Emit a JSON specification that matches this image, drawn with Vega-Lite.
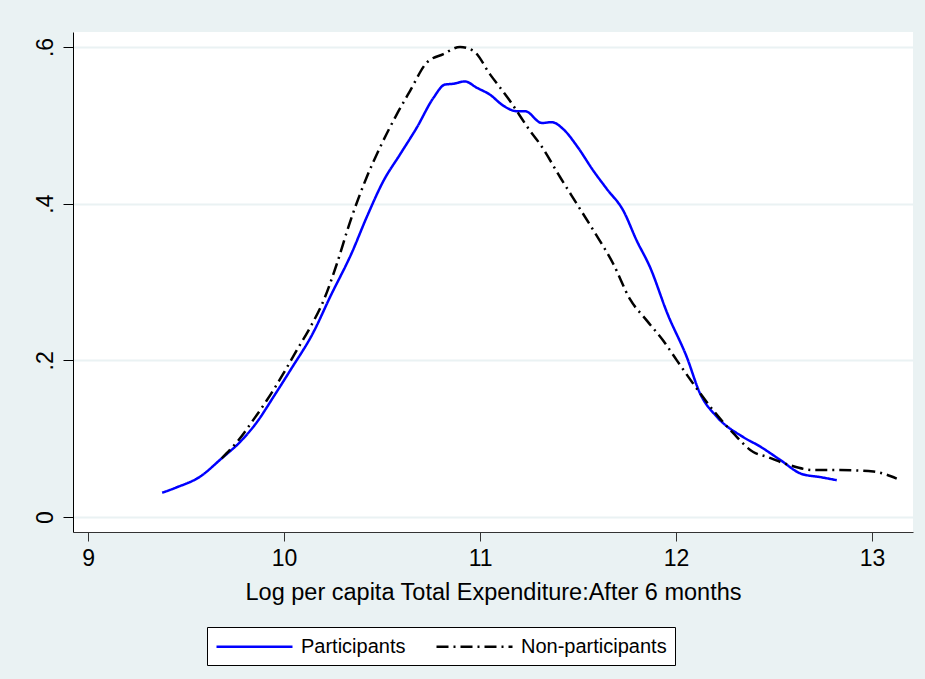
{
  "$schema": "https://vega.github.io/schema/vega-lite/v6.json",
  "autosize": "none",
  "width": 840,
  "height": 500,
  "padding": {"left": 73, "top": 32, "right": 12, "bottom": 147},
  "background": "#EAF2F3",
  "config": {
    "view": {"fill": "white", "stroke": null},
    "font": "Liberation Sans"
  },
  "data": {
    "values": [
      {"x": 9.378, "y": 0.031, "s": "Participants"},
      {"x": 9.453, "y": 0.038, "s": "Participants"},
      {"x": 9.568, "y": 0.051, "s": "Participants"},
      {"x": 9.682, "y": 0.075, "s": "Participants"},
      {"x": 9.776, "y": 0.096, "s": "Participants"},
      {"x": 9.861, "y": 0.121, "s": "Participants"},
      {"x": 9.945, "y": 0.153, "s": "Participants"},
      {"x": 10.031, "y": 0.187, "s": "Participants"},
      {"x": 10.15, "y": 0.236, "s": "Participants"},
      {"x": 10.235, "y": 0.281, "s": "Participants"},
      {"x": 10.345, "y": 0.337, "s": "Participants"},
      {"x": 10.422, "y": 0.383, "s": "Participants"},
      {"x": 10.507, "y": 0.429, "s": "Participants"},
      {"x": 10.592, "y": 0.463, "s": "Participants"},
      {"x": 10.677, "y": 0.497, "s": "Participants"},
      {"x": 10.762, "y": 0.535, "s": "Participants"},
      {"x": 10.821, "y": 0.552, "s": "Participants"},
      {"x": 10.864, "y": 0.553, "s": "Participants"},
      {"x": 10.923, "y": 0.556, "s": "Participants"},
      {"x": 10.983, "y": 0.548, "s": "Participants"},
      {"x": 11.051, "y": 0.539, "s": "Participants"},
      {"x": 11.119, "y": 0.525, "s": "Participants"},
      {"x": 11.187, "y": 0.518, "s": "Participants"},
      {"x": 11.23, "y": 0.518, "s": "Participants"},
      {"x": 11.315, "y": 0.503, "s": "Participants"},
      {"x": 11.366, "y": 0.504, "s": "Participants"},
      {"x": 11.425, "y": 0.495, "s": "Participants"},
      {"x": 11.493, "y": 0.474, "s": "Participants"},
      {"x": 11.578, "y": 0.442, "s": "Participants"},
      {"x": 11.646, "y": 0.419, "s": "Participants"},
      {"x": 11.731, "y": 0.391, "s": "Participants"},
      {"x": 11.799, "y": 0.353, "s": "Participants"},
      {"x": 11.867, "y": 0.319, "s": "Participants"},
      {"x": 11.957, "y": 0.259, "s": "Participants"},
      {"x": 12.055, "y": 0.204, "s": "Participants"},
      {"x": 12.122, "y": 0.158, "s": "Participants"},
      {"x": 12.208, "y": 0.128, "s": "Participants"},
      {"x": 12.343, "y": 0.102, "s": "Participants"},
      {"x": 12.429, "y": 0.09, "s": "Participants"},
      {"x": 12.531, "y": 0.073, "s": "Participants"},
      {"x": 12.641, "y": 0.055, "s": "Participants"},
      {"x": 12.735, "y": 0.051, "s": "Participants"},
      {"x": 12.82, "y": 0.047, "s": "Participants"},
      {"x": 9.682, "y": 0.075, "s": "Non-participants"},
      {"x": 9.767, "y": 0.098, "s": "Non-participants"},
      {"x": 9.843, "y": 0.124, "s": "Non-participants"},
      {"x": 9.912, "y": 0.149, "s": "Non-participants"},
      {"x": 9.996, "y": 0.183, "s": "Non-participants"},
      {"x": 10.065, "y": 0.213, "s": "Non-participants"},
      {"x": 10.133, "y": 0.242, "s": "Non-participants"},
      {"x": 10.201, "y": 0.276, "s": "Non-participants"},
      {"x": 10.269, "y": 0.323, "s": "Non-participants"},
      {"x": 10.333, "y": 0.374, "s": "Non-participants"},
      {"x": 10.422, "y": 0.434, "s": "Non-participants"},
      {"x": 10.49, "y": 0.472, "s": "Non-participants"},
      {"x": 10.575, "y": 0.514, "s": "Non-participants"},
      {"x": 10.643, "y": 0.544, "s": "Non-participants"},
      {"x": 10.728, "y": 0.58, "s": "Non-participants"},
      {"x": 10.813, "y": 0.591, "s": "Non-participants"},
      {"x": 10.898, "y": 0.6, "s": "Non-participants"},
      {"x": 10.966, "y": 0.595, "s": "Non-participants"},
      {"x": 11.051, "y": 0.565, "s": "Non-participants"},
      {"x": 11.153, "y": 0.531, "s": "Non-participants"},
      {"x": 11.255, "y": 0.493, "s": "Non-participants"},
      {"x": 11.306, "y": 0.476, "s": "Non-participants"},
      {"x": 11.408, "y": 0.434, "s": "Non-participants"},
      {"x": 11.493, "y": 0.4, "s": "Non-participants"},
      {"x": 11.578, "y": 0.366, "s": "Non-participants"},
      {"x": 11.68, "y": 0.323, "s": "Non-participants"},
      {"x": 11.765, "y": 0.278, "s": "Non-participants"},
      {"x": 11.85, "y": 0.251, "s": "Non-participants"},
      {"x": 11.935, "y": 0.225, "s": "Non-participants"},
      {"x": 12.004, "y": 0.2, "s": "Non-participants"},
      {"x": 12.088, "y": 0.17, "s": "Non-participants"},
      {"x": 12.19, "y": 0.136, "s": "Non-participants"},
      {"x": 12.292, "y": 0.107, "s": "Non-participants"},
      {"x": 12.394, "y": 0.083, "s": "Non-participants"},
      {"x": 12.463, "y": 0.077, "s": "Non-participants"},
      {"x": 12.582, "y": 0.066, "s": "Non-participants"},
      {"x": 12.7, "y": 0.06, "s": "Non-participants"},
      {"x": 12.837, "y": 0.06, "s": "Non-participants"},
      {"x": 13.007, "y": 0.058, "s": "Non-participants"},
      {"x": 13.126, "y": 0.049, "s": "Non-participants"}
    ]
  },
  "mark": {"type": "line", "strokeWidth": 2.5, "interpolate": "monotone"},
  "encoding": {
    "x": {
      "field": "x", "type": "quantitative",
      "scale": {"domain": [8.923, 13.209], "nice": false, "zero": false},
      "axis": {
        "title": "Log per capita Total Expenditure:After 6 months",
        "values": [9, 10, 11, 12, 13],
        "grid": false,
        "domainColor": "#333333", "domainWidth": 1,
        "tickColor": "#333333", "tickSize": 9, "tickWidth": 1,
        "labelFontSize": 23, "labelColor": "black", "labelPadding": 6,
        "titleFontSize": 23.5, "titleFontWeight": "normal", "titleColor": "black", "titlePadding": 10
      }
    },
    "y": {
      "field": "y", "type": "quantitative",
      "scale": {"domain": [-0.0191, 0.6191], "nice": false, "zero": false},
      "axis": {
        "title": null,
        "values": [0, 0.2, 0.4, 0.6],
        "labelExpr": "datum.value === 0 ? '0' : replace(format(datum.value, '.1f'), '0.', '.')",
        "grid": true, "gridColor": "#EAF2F3", "gridWidth": 2,
        "domainColor": "black", "domainWidth": 1,
        "tickColor": "black", "tickSize": 10, "tickWidth": 1,
        "labelAngle": -90, "labelAlign": "center", "labelBaseline": "bottom",
        "labelFontSize": 23, "labelColor": "black", "labelPadding": 6
      }
    },
    "color": {
      "field": "s", "type": "nominal",
      "scale": {"domain": ["Participants", "Non-participants"], "range": ["#0000FF", "#000000"]},
      "legend": {
        "title": null, "orient": "none", "legendX": 134, "legendY": 595,
        "direction": "horizontal", "fillColor": "white", "strokeColor": "black",
        "padding": 8, "columnPadding": 25, "labelOffset": 63,
        "symbolType": "M-1,0H6.6", "symbolSize": 400, "symbolStrokeWidth": 2.5,
        "labelFontSize": 20, "labelColor": "black", "labelLimit": 300
      }
    },
    "strokeDash": {
      "field": "s", "type": "nominal",
      "scale": {"domain": ["Participants", "Non-participants"], "range": [[1, 0], [12, 5, 2, 5]]},
      "legend": {
        "title": null, "orient": "none", "legendX": 134, "legendY": 595,
        "direction": "horizontal", "fillColor": "white", "strokeColor": "black",
        "padding": 8, "columnPadding": 25, "labelOffset": 63,
        "symbolType": "M-1,0H6.6", "symbolSize": 400, "symbolStrokeWidth": 2.5,
        "labelFontSize": 20, "labelColor": "black", "labelLimit": 300
      }
    }
  }
}
